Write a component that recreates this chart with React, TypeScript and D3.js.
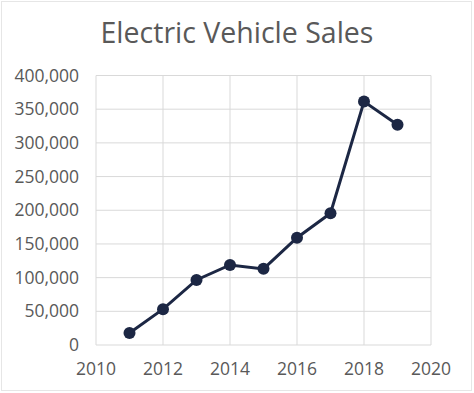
import React from "react";
import * as d3 from "d3";

const years = [2011, 2012, 2013, 2014, 2015, 2016, 2017, 2018, 2019];
const sales = [17800, 53200, 96600, 118800, 113000, 159300, 195600, 361300, 327000];
const xTicks = [2010, 2012, 2014, 2016, 2018, 2020];
const yTicks = [0, 50000, 100000, 150000, 200000, 250000, 300000, 350000, 400000];
const title = "Electric Vehicle Sales";

export default function App() {
  const W = 474, H = 393;
  const left = 96, right = 431, top = 75.5, bottom = 345;
  const x = d3.scaleLinear().domain([2010, 2020]).range([left, right]);
  const y = d3.scaleLinear().domain([0, 400000]).range([bottom, top]);
  const line = d3.line<number>().x((_, i) => x(years[i])).y((d) => y(d));
  const fmt = d3.format(",");
  const font = "'Open Sans', sans-serif";
  const textColor = "#595959";
  const grid = "#d9d9d9";
  const navy = "#1c2744";
  return (
    <svg width={W} height={H} style={{ position: "fixed", left: 0, top: 0, background: "#fff" }}>
      <rect x={1.5} y={1.5} width={W - 4} height={H - 4} fill="#fff" stroke="#e6e6e6" />
      <text x={237} y={43} textAnchor="middle" fontFamily={font} fontSize={28.5} fill={textColor}>
        {title}
      </text>
      {yTicks.map((t) => (
        <g key={"y" + t}>
          <line x1={left} x2={right} y1={y(t)} y2={y(t)} stroke={grid} strokeWidth={1} />
          <text x={79} y={y(t)} dy="0.35em" textAnchor="end" fontFamily={font} fontSize={17.5} fill={textColor}>
            {fmt(t)}
          </text>
        </g>
      ))}
      {xTicks.map((t) => (
        <g key={"x" + t}>
          <line x1={x(t)} x2={x(t)} y1={top} y2={bottom} stroke={grid} strokeWidth={1} />
          <text x={x(t)} y={375} textAnchor="middle" fontFamily={font} fontSize={17.5} fill={textColor}>
            {t}
          </text>
        </g>
      ))}
      <path d={line(sales) || ""} fill="none" stroke={navy} strokeWidth={3} />
      {sales.map((v, i) => (
        <circle key={i} cx={x(years[i])} cy={y(v)} r={6} fill={navy} />
      ))}
    </svg>
  );
}
